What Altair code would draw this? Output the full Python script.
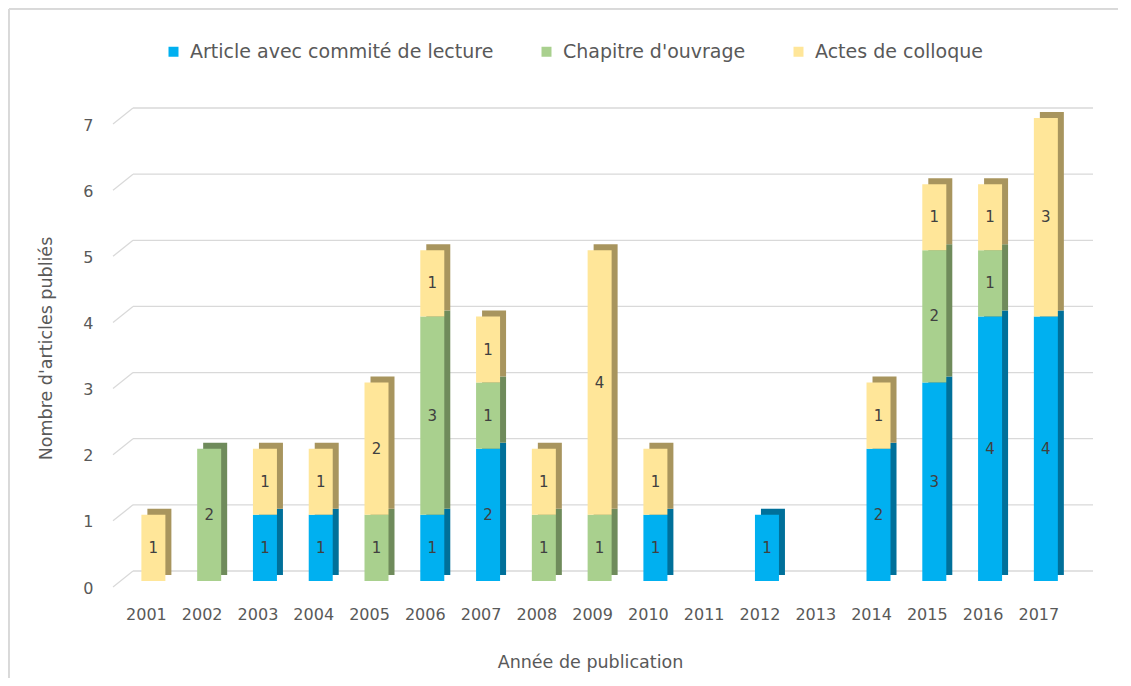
import altair as alt
import pandas as pd

years = list(range(2001, 2018))
article = [0, 0, 1, 1, 0, 1, 2, 0, 0, 1, 0, 1, 0, 2, 3, 4, 4]
chapitre = [0, 2, 0, 0, 1, 3, 1, 1, 1, 0, 0, 0, 0, 0, 2, 1, 0]
actes = [1, 0, 1, 1, 2, 1, 1, 1, 4, 1, 0, 0, 0, 1, 1, 1, 3]
series = ["Article avec commité de lecture", "Chapitre d'ouvrage", "Actes de colloque"]
y_ticks = [0, 1, 2, 3, 4, 5, 6, 7]

front_colors = ["#00B0F0", "#A9D08E", "#FFE699"]
side_colors = ["#00709A", "#6F8B5B", "#A8955E"]

rows = []
for i, y in enumerate(years):
    for k, vals in enumerate([article, chapitre, actes]):
        if vals[i] > 0:
            rows.append({"year": y, "type": series[k], "ord": k, "count": vals[i]})
df = pd.DataFrame(rows)
grid_df = pd.DataFrame({"v": y_ticks})

FONT = "DejaVu Sans"
GREY = "#595959"

xscale = alt.Scale(domain=[2000.5, 2017.89], nice=False, zero=False)
yscale = alt.Scale(domain=[0, 7], nice=False)

xaxis = alt.Axis(values=years, format="d", grid=False, domain=False, ticks=False,
                 labelPadding=25, labelFlush=False, title="Année de publication",
                 titleX=477, titleY=81, titleBaseline="middle", titleAlign="center")
yaxis = alt.Axis(values=y_ticks, grid=False, domain=False, ticks=False, labelPadding=20,
                 labelOffset=7, title="Nombre d'articles publiés",
                 titleX=-67, titleY=230, titleBaseline="middle", titleAlign="center")

X = alt.X("year:Q", scale=xscale, axis=xaxis)
stack = dict(stack="count", groupby=["year"], as_=["y0", "y1"], sort=[alt.SortField("ord")])

base = alt.Chart(df)

border_top = alt.Chart(grid_df).mark_rule(color="#D9D9D9", strokeWidth=1).encode(
    x=alt.value(-104), x2=alt.value(1005), y=alt.value(-109))
border_left = alt.Chart(grid_df).mark_rule(color="#D9D9D9", strokeWidth=1).encode(
    x=alt.value(-104), y=alt.value(-109), y2=alt.value(560))

grid = alt.Chart(grid_df).mark_rule(color="#D9D9D9", strokeWidth=1.3, yOffset=-10).encode(
    y=alt.Y("v:Q", scale=yscale, axis=yaxis),
    x=alt.value(20), x2=alt.value(980))

slant = alt.Chart(grid_df).mark_rule(color="#D9D9D9", strokeWidth=1.3, yOffset=6, y2Offset=-10).encode(
    y=alt.Y("v:Q", scale=yscale, axis=yaxis), y2="v:Q",
    x=alt.value(0), x2=alt.value(20))

side = base.transform_stack(**stack).mark_bar(
    width=24, xOffset=13.5, x2Offset=13.5, yOffset=-6, y2Offset=-6).encode(
    x=X,
    y=alt.Y("y0:Q", scale=yscale, axis=yaxis), y2="y1:Q",
    color=alt.Color("type:N", scale=alt.Scale(domain=series, range=side_colors), legend=None),
)

front = base.transform_stack(**stack).mark_bar(width=24, xOffset=7.5, x2Offset=7.5).encode(
    x=X,
    y=alt.Y("y0:Q", scale=yscale, axis=yaxis), y2="y1:Q",
    color=alt.Color("type:N", scale=alt.Scale(domain=series, range=front_colors),
                    legend=alt.Legend(title=None, orient="none", legendX=51, legendY=-76,
                                      direction="horizontal", symbolType="square",
                                      symbolSize=100, symbolStrokeWidth=0,
                                      labelFontSize=19, labelColor=GREY, labelFont=FONT,
                                      columnPadding=43, labelOffset=7, labelLimit=400)),
)

labels = base.transform_stack(**stack).transform_calculate(
    mid="(datum.y0 + datum.y1) / 2").mark_text(
    dx=7.5, font=FONT, fontSize=15, color="#404040", baseline="middle").encode(
    x=X,
    y=alt.Y("mid:Q", scale=yscale, axis=yaxis),
    text="count:Q",
)

chart = alt.layer(border_top, border_left, grid, slant, side, front, labels).resolve_scale(
    color="independent"
).properties(
    width=980, height=463,
    autosize=alt.AutoSizeParams(type="none"),
    padding={"left": 105, "top": 110, "right": 30, "bottom": 97},
).configure(background="white").configure_view(stroke=None).configure_axis(
    labelFont=FONT, labelFontSize=16, labelColor=GREY,
    titleFont=FONT, titleFontSize=17.5, titleColor=GREY, titleFontWeight="normal",
)

chart.save("out.html", embed_options={"renderer": "svg", "actions": False})
